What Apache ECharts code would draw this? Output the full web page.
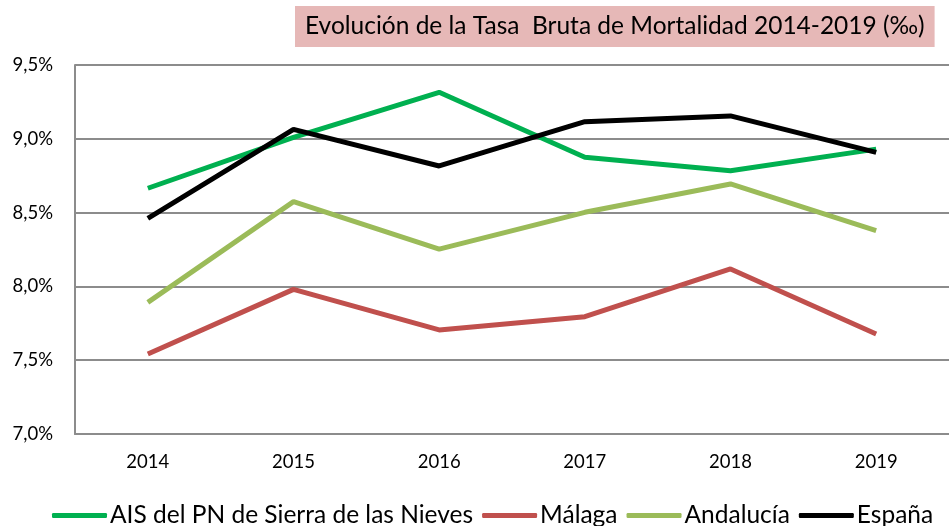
<!DOCTYPE html>
<html>
<head>
<meta charset="utf-8">
<script src="https://cdn.jsdelivr.net/npm/echarts@6/dist/echarts.min.js"></script>
<style>
  html, body { margin: 0; padding: 0; background: #fff; }
  #chart { width: 949px; height: 526px; }
</style>
</head>
<body>
<div id="chart"></div>
<script>
// datos
var years = ['2014', '2015', '2016', '2017', '2018', '2019'];
var ais = [8.665, 9.01, 9.315, 8.875, 8.784, 8.93];
var malaga = [7.542, 7.98, 7.705, 7.795, 8.118, 7.678];
var andalucia = [7.892, 8.574, 8.253, 8.502, 8.694, 8.378];
var espana = [8.461, 9.064, 8.816, 9.116, 9.155, 8.908];
var seriesNames = ['AIS del PN de Sierra de las Nieves', 'Málaga', 'Andalucía', 'España'];
var colors = ['#00b050', '#c0504d', '#9bbb59', '#000000'];

var font = 'Lato, "Open Sans", sans-serif';
var myChart = echarts.init(document.getElementById('chart'));

var makeLine = function (name, data, color, z) {
    return {
        name: name,
        type: 'line',
        data: data,
        symbol: 'none',
        smooth: false,
        z: z,
        lineStyle: { color: color, width: 5 },
        itemStyle: { color: color }
    };
};

var option = {
    backgroundColor: '#fff',
    animation: false,
    title: {
        text: 'Evolución de la Tasa  Bruta de Mortalidad 2014-2019 (‰)',
        left: 295,
        top: 6,
        padding: [6, 10, 6, 10],
        backgroundColor: '#e6b8b7',
        textStyle: {
            fontFamily: font,
            fontSize: 24.5,
            fontWeight: 'normal',
            color: '#000',
            lineHeight: 29
        }
    },
    legend: {
        bottom: -2,
        left: 52,
        width: 897,
        padding: 0,
        itemWidth: 55,
        itemHeight: 5,
        itemGap: 9,
        icon: 'roundRect',
        data: seriesNames,
        textStyle: { fontFamily: font, fontSize: 24.5, color: '#000', padding: [0, 0, 0, -2] }
    },
    grid: {
        left: 75,
        right: -3,
        top: 65,
        bottom: 92
    },
    xAxis: {
        type: 'category',
        data: years,
        boundaryGap: true,
        axisLine: { show: true, lineStyle: { color: '#8c8c8c', width: 2 } },
        axisTick: { show: false },
        axisLabel: { fontFamily: font, fontSize: 18.5, color: '#000', margin: 19 }
    },
    yAxis: {
        type: 'value',
        min: 7,
        max: 9.5,
        interval: 0.5,
        axisLine: { show: true, lineStyle: { color: '#8c8c8c', width: 2 } },
        axisTick: { show: false },
        splitLine: { lineStyle: { color: '#8c8c8c', width: 2 } },
        axisLabel: {
            fontFamily: font,
            fontSize: 18.5,
            color: '#000',
            margin: 22,
            formatter: function (v) {
                return v.toFixed(1).replace('.', ',') + '%';
            }
        }
    },
    series: [
        makeLine(seriesNames[0], ais, colors[0], 2),
        makeLine(seriesNames[1], malaga, colors[1], 3),
        makeLine(seriesNames[2], andalucia, colors[2], 4),
        makeLine(seriesNames[3], espana, colors[3], 5)
    ]
};
myChart.setOption(option);
</script>
</body>
</html>
